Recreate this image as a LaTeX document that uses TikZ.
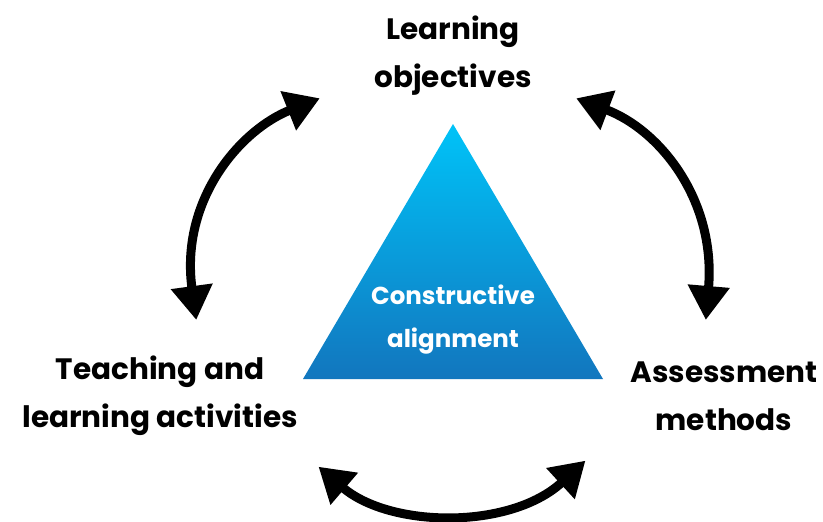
\documentclass[tikz,border=0pt]{standalone}
\usepackage{fontspec}
\setmainfont{Poppins}
\usetikzlibrary{arrows.meta}
\definecolor{tritop}{RGB}{0,195,248}
\definecolor{tribot}{RGB}{18,118,190}
\tikzset{
  lbl/.style={align=center, font=\fontsize{29.5}{48}\selectfont\bfseries, text=black, inner sep=0pt},
  inlbl/.style={align=center, font=\fontsize{24.5}{43}\selectfont\bfseries, text=white, inner sep=0pt},
  dbl/.style={line width=9pt, black, {Triangle[length=34pt,width=40pt]}-{Triangle[length=34pt,width=40pt]}, shorten <=-2pt, shorten >=-2pt}
}
\begin{document}
\begin{tikzpicture}[x=1pt,y=-1pt]
\useasboundingbox (0,0) rectangle (823,522);
\fill[white] (0,0) rectangle (823,522);
% triangle
\shade[top color=tritop, bottom color=tribot] (453,124) -- (603,379) -- (303,379) -- cycle;
\node[inlbl] (ca) at (453,320) {Constructive\\alignment};
% labels
\node[lbl] (lo) at (453,56) {Learning\\objectives};
\node[lbl] (tla) at (160,396) {Teaching and\\learning activities};
\node[lbl] (am) at (724,396) {Assessment\\methods};
% arrow end points
\coordinate (l1) at (318,99);
\coordinate (l2) at (196,318);
\coordinate (r1) at (578,99);
\coordinate (r2) at (706,318);
\coordinate (b1) at (320,468);
\coordinate (b2) at (584,462);
\draw[dbl] (l2) .. controls (180,200) and (240,130) .. (l1);
\draw[dbl] (r1) .. controls (660,130) and (716,200) .. (r2);
\draw[dbl] (b1) .. controls (390,528) and (510,530) .. (b2);
\end{tikzpicture}
\end{document}
